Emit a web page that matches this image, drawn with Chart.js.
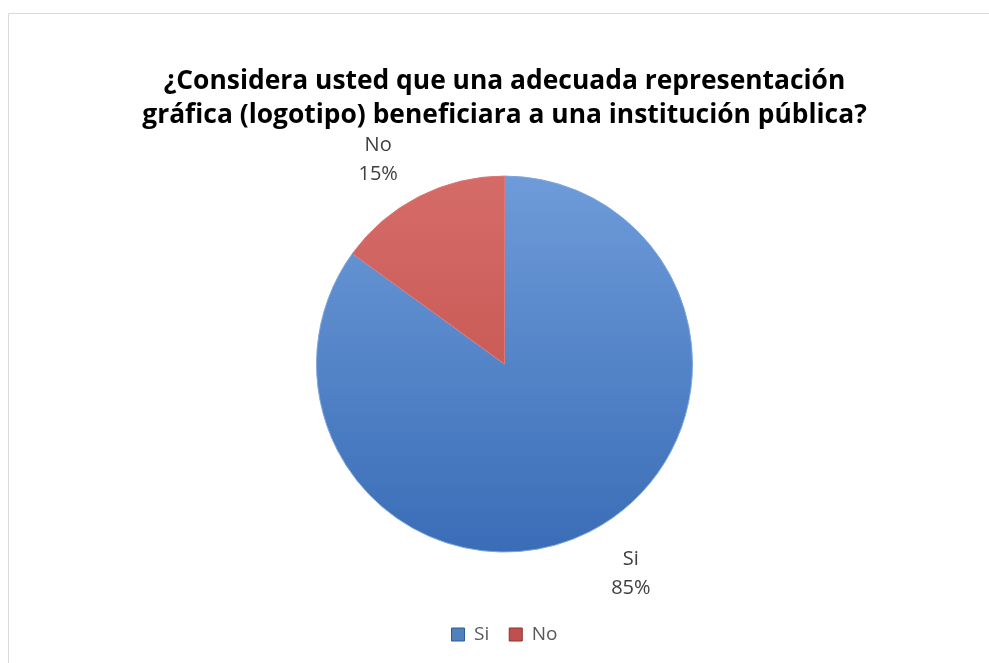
<!DOCTYPE html>
<html>
<head>
<meta charset="utf-8">
<script src="https://cdn.jsdelivr.net/npm/chart.js@4/dist/chart.umd.min.js"></script>
<style>
  html, body { margin: 0; padding: 0; background: #fff; }
  canvas { display: block; }
</style>
</head>
<body>
<canvas id="chart" width="989" height="663"></canvas>
<script>
const labels = ['Si', 'No'];
const values = [85, 15];
const titleLines = ['¿Considera usted que una adecuada representación', 'gráfica (logotipo) beneficiara a una institución pública?'];

const topColors = ['#6e9bd9', '#d56b67'];
const bottomColors = ['#3a6db7', '#c04c48'];
const solidColors = ['#4f81bd', '#c0504d'];
const pieRadius = 188;

function sliceFill(ctx) {
  const chart = ctx.chart;
  const area = chart.chartArea;
  if (!area || !isFinite(area.top) || !isFinite(area.bottom)) return solidColors[ctx.dataIndex];
  const cy = (area.top + area.bottom) / 2;
  const g = chart.ctx.createLinearGradient(0, cy - pieRadius, 0, cy + pieRadius);
  g.addColorStop(0, topColors[ctx.dataIndex]);
  g.addColorStop(1, bottomColors[ctx.dataIndex]);
  return g;
}

// frame lines
const framePlugin = {
  id: 'frame',
  beforeDraw(chart) {
    const c = chart.ctx;
    c.save();
    c.strokeStyle = '#d9d9d9';
    c.lineWidth = 1;
    c.beginPath();
    c.moveTo(8.5, chart.height);
    c.lineTo(8.5, 13.5);
    c.lineTo(chart.width, 13.5);
    c.stroke();
    c.restore();
  }
};

// category + percent next to each slice
const outsideLabels = {
  id: 'outsideLabels',
  afterDatasetsDraw(chart) {
    const c = chart.ctx;
    const arcs = chart.getDatasetMeta(0).data;
    const total = values.reduce((a, b) => a + b, 0);
    c.save();
    c.font = '20px "Open Sans"';
    c.fillStyle = '#404040';
    c.textAlign = 'center';
    c.textBaseline = 'middle';
    arcs.forEach((arc, i) => {
      const mid = (arc.startAngle + arc.endAngle) / 2;
      const ex = arc.x + Math.cos(mid) * arc.outerRadius;
      const ey = arc.y + Math.sin(mid) * arc.outerRadius;
      const lx = ex + Math.sign(Math.cos(mid)) * 41;
      const ly = ey + (Math.sin(mid) < 0 ? -37 : 42);
      const pct = Math.round(values[i] / total * 100) + '%';
      c.fillText(labels[i], lx, ly - 14.5);
      c.fillText(pct, lx, ly + 14.5);
    });
    c.restore();
  }
};

new Chart(document.getElementById('chart'), {
  type: 'pie',
  data: {
    labels: labels,
    datasets: [{
      data: values,
      backgroundColor: sliceFill,
      borderColor: ['#7ea7dd', '#d97a76'],
      borderWidth: 1,
      radius: pieRadius
    }]
  },
  options: {
    responsive: false,
    animation: false,
    layout: { padding: { left: 20, right: 0, top: 0, bottom: 9 } },
    plugins: {
      title: {
        display: true,
        text: titleLines,
        color: '#000',
        font: { family: '"Open Sans"', size: 26.4, weight: 'bold', lineHeight: 1.29 },
        padding: { top: 64, bottom: -9 }
      },
      legend: {
        position: 'bottom',
        labels: {
          padding: 20,
          boxWidth: 13,
          boxHeight: 13,
          color: '#595959',
          font: { family: '"Open Sans"', size: 19 },
          generateLabels: () => labels.map((l, i) => ({
            text: l,
            fillStyle: solidColors[i],
            strokeStyle: i === 0 ? '#2f5b94' : '#8c3330',
            lineWidth: 1,
            fontColor: '#595959',
            index: i
          }))
        }
      },
      tooltip: { enabled: false }
    }
  },
  plugins: [framePlugin, outsideLabels]
});
</script>
</body>
</html>
